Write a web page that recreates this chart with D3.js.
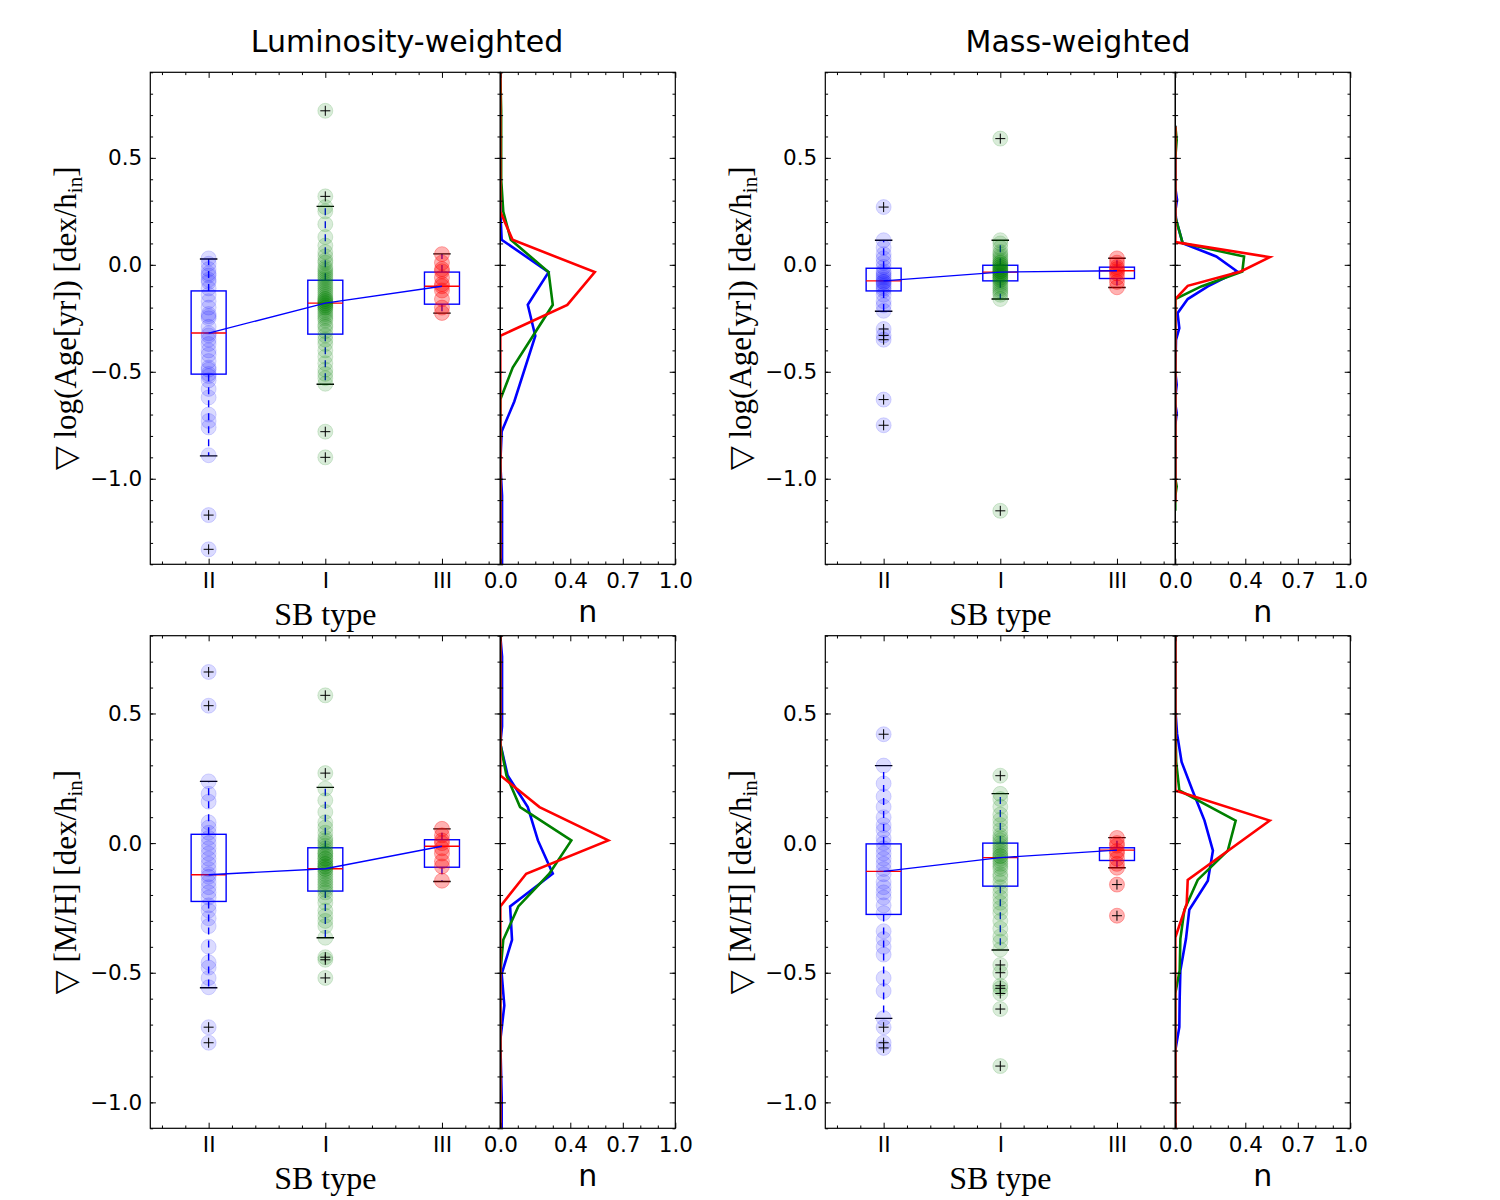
<!DOCTYPE html>
<html>
<head>
<meta charset="utf-8">
<script src="https://cdn.jsdelivr.net/npm/d3@7"></script>
<style>
  body { margin: 0; background: #fff; }
  text { font-family: "DejaVu Sans", sans-serif; }
  .serif { font-family: "Liberation Serif", "DejaVu Serif", serif; }
</style>
</head>
<body>
<svg id="chart" width="1500" height="1200"></svg>
<script>
// ---- data ------------------------------------------------------------------
const CATS = ["II", "I", "III"];
const COLS = ["#0000ff", "#008000", "#ff0000"];
const ALPHA = [0.14, 0.15, 0.3];

// luminosity-weighted age gradients
const lumAgeII = [0.03, 0.005, -0.02, -0.04, -0.05, -0.07, -0.08, -0.11, -0.14, -0.17, -0.20, -0.23, -0.24, -0.25, -0.29,
  -0.32, -0.33, -0.35, -0.37, -0.40, -0.42, -0.45, -0.48, -0.49, -0.51, -0.52, -0.54, -0.58, -0.62, -0.70, -0.73, -0.76,
  -0.89, -1.17, -1.33];
const lumAgeI = [0.72, 0.32, 0.27, 0.25, 0.19, 0.13, 0.09, 0.06, 0.04, 0.02, 0.01, -0.01, -0.02, -0.03, -0.04, -0.05,
  -0.06, -0.07, -0.08, -0.09, -0.10, -0.11, -0.12, -0.13, -0.14, -0.15, -0.16, -0.16, -0.17, -0.17, -0.18, -0.18, -0.19,
  -0.19, -0.20, -0.20, -0.21, -0.22, -0.23, -0.24, -0.25, -0.26, -0.28, -0.29, -0.31, -0.33, -0.35, -0.37, -0.40, -0.43,
  -0.46, -0.49, -0.51, -0.53, -0.556, -0.78, -0.90];
const lumAgeIII = [0.05, 0.01, -0.02, -0.03, -0.06, -0.09, -0.10, -0.12, -0.16, -0.20, -0.225];
// box stats: [lower whisker, q1, median, q3, upper whisker]
const lumAgeStats = [[-0.893, -0.511, -0.319, -0.122, 0.027], [-0.558, -0.324, -0.179, -0.072, 0.273], [-0.226, -0.184, -0.100, -0.034, 0.051]];
// histograms: [value, n]
const lumAgeHistII = [[0.9, 0], [0.25, 0], [0.117, 0.008], [-0.034, 0.276], [-0.187, 0.157], [-0.332, 0.2], [-0.639, 0.08],
  [-0.779, 0.008], [-0.93, 0], [-1.08, 0.01], [-1.4, 0.01]];
const lumAgeHistI = [[0.9, 0], [0.72, 0.005], [0.4, 0.005], [0.249, 0.017], [0.117, 0.06], [-0.034, 0.276], [-0.187, 0.30],
  [-0.48, 0.071], [-0.63, 0], [-1.4, 0]];
const lumAgeHistIII = [[0.9, 0], [0.249, 0], [0.117, 0.07], [-0.034, 0.54], [-0.187, 0.383], [-0.332, 0], [-1.4, 0]];

// mass-weighted age gradients
const massAgeII = [0.27, 0.115, 0.08, 0.05, 0.03, 0.01, -0.01, -0.03, -0.04, -0.05, -0.06, -0.07, -0.08, -0.08, -0.09,
  -0.10, -0.11, -0.12, -0.14, -0.17, -0.19, -0.215, -0.30, -0.33, -0.35, -0.63, -0.75];
const massAgeI = [0.59, 0.115, 0.10, 0.08, 0.06, 0.05, 0.04, 0.03, 0.02, 0.01, 0.01, 0.0, 0.0, -0.01, -0.01, -0.02, -0.02,
  -0.03, -0.03, -0.03, -0.04, -0.04, -0.05, -0.05, -0.06, -0.06, -0.07, -0.07, -0.08, -0.09, -0.10, -0.11, -0.12, -0.13,
  -0.14, -0.16, -1.15];
const massAgeIII = [0.03, 0.01, -0.01, -0.02, -0.03, -0.04, -0.06, -0.08, -0.105];
const massAgeStats = [[-0.217, -0.122, -0.075, -0.016, 0.115], [-0.160, -0.075, -0.034, -0.002, 0.115], [-0.106, -0.064, -0.028, -0.011, 0.031]];
const massAgeHistII = [[0.65, 0], [0.36, 0], [0.304, 0.01], [0.25, 0], [0.21, 0.005], [0.101, 0.042], [0.039, 0.234],
  [-0.031, 0.354], [-0.101, 0.186], [-0.160, 0.071], [-0.226, 0.013], [-0.296, 0.023], [-0.351, 0.004], [-0.5, 0],
  [-0.561, 0.008], [-0.62, 0], [-0.65, 0], [-0.693, 0.008], [-0.75, 0], [-1.1, 0]];
const massAgeHistI = [[0.65, 0], [0.584, 0.008], [0.5, 0], [0.226, 0], [0.101, 0.042], [0.039, 0.393], [-0.031, 0.383],
  [-0.101, 0.148], [-0.160, 0], [-1.0, 0], [-1.036, 0.008], [-1.08, 0], [-1.15, 0]];
const massAgeHistIII = [[0.647, 0], [0.106, 0], [0.036, 0.54], [-0.031, 0.374], [-0.098, 0.071], [-0.160, 0], [-1.11, 0]];

// luminosity-weighted [M/H] gradients
const lumMHII = [0.66, 0.53, 0.238, 0.19, 0.16, 0.08, 0.06, 0.04, 0.02, 0.0, -0.02, -0.04, -0.06, -0.08, -0.10, -0.12,
  -0.13, -0.15, -0.17, -0.19, -0.21, -0.24, -0.26, -0.29, -0.32, -0.40, -0.46, -0.48, -0.52, -0.556, -0.71, -0.77];
const lumMHI = [0.57, 0.27, 0.21, 0.165, 0.12, 0.08, 0.06, 0.04, 0.02, 0.01, 0.0, -0.01, -0.02, -0.03, -0.04, -0.04, -0.05,
  -0.06, -0.06, -0.07, -0.08, -0.08, -0.09, -0.09, -0.10, -0.10, -0.11, -0.12, -0.13, -0.14, -0.15, -0.16, -0.17, -0.18,
  -0.19, -0.21, -0.23, -0.26, -0.28, -0.30, -0.32, -0.365, -0.44, -0.45, -0.52];
const lumMHIII = [0.055, 0.03, 0.01, 0.0, -0.02, -0.04, -0.07, -0.09, -0.145];
const lumMHStats = [[-0.558, -0.225, -0.122, 0.034, 0.238], [-0.365, -0.185, -0.099, -0.018, 0.215], [-0.148, -0.093, -0.012, 0.013, 0.055]];
const lumMHHistII = [[0.8, 0], [0.72, 0.01], [0.45, 0.01], [0.384, 0], [0.261, 0.042], [0.139, 0.157], [0.0104, 0.215],
  [-0.118, 0.30], [-0.244, 0.056], [-0.373, 0.067], [-0.504, 0.008], [-0.626, 0.023], [-0.761, 0], [-0.98, 0.008], [-1.1, 0.008]];
const lumMHHistI = [[0.8, 0], [0.384, 0], [0.261, 0.035], [0.139, 0.113], [0.0104, 0.406], [-0.118, 0.28], [-0.244, 0.103],
  [-0.373, 0.017], [-0.504, 0], [-1.1, 0]];
const lumMHHistIII = [[0.8, 0], [0.261, 0], [0.139, 0.224], [0.0104, 0.617], [-0.118, 0.148], [-0.244, 0], [-1.1, 0]];

// mass-weighted [M/H] gradients
const massMHII = [0.42, 0.299, 0.23, 0.18, 0.14, 0.10, 0.07, 0.05, 0.02, 0.0, -0.02, -0.04, -0.06, -0.08, -0.10, -0.12,
  -0.15, -0.17, -0.19, -0.21, -0.24, -0.27, -0.34, -0.37, -0.40, -0.43, -0.52, -0.57, -0.675, -0.71, -0.77, -0.79];
const massMHI = [0.26, 0.19, 0.17, 0.14, 0.11, 0.09, 0.07, 0.05, 0.03, 0.02, 0.01, 0.0, -0.01, -0.02, -0.03, -0.04,
  -0.05, -0.05, -0.06, -0.07, -0.08, -0.09, -0.10, -0.12, -0.13, -0.15, -0.17, -0.19, -0.21, -0.23, -0.25, -0.27,
  -0.30, -0.33, -0.36, -0.38, -0.41, -0.47, -0.50, -0.55, -0.56, -0.58, -0.64, -0.86];
const massMHIII = [0.02, 0.0, -0.01, -0.03, -0.04, -0.06, -0.08, -0.095, -0.16, -0.28];
const massMHStats = [[-0.676, -0.275, -0.109, -0.003, 0.299], [-0.412, -0.166, -0.056, 0.000, 0.191], [-0.095, -0.067, -0.027, -0.018, 0.021]];
const massMHHistII = [[0.8, 0], [0.519, 0], [0.422, 0.01], [0.313, 0.036], [0.2, 0.1], [0.087, 0.167], [-0.029, 0.215],
  [-0.145, 0.186], [-0.257, 0.08], [-0.369, 0.061], [-0.491, 0.029], [-0.60, 0.025], [-0.71, 0.023], [-0.8, 0], [-1.1, 0]];
const massMHHistI = [[0.8, 0], [0.5, 0], [0.313, 0.005], [0.203, 0.023], [0.087, 0.345], [-0.029, 0.30], [-0.142, 0.128],
  [-0.257, 0.052], [-0.369, 0.029], [-0.491, 0.025], [-0.58, 0], [-1.1, 0]];
const massMHHistIII = [[0.8, 0], [0.203, 0], [0.087, 0.54], [-0.142, 0.071], [-0.235, 0.065], [-0.364, 0], [-1.1, 0]];

const AGE_DOMAIN = [-1.4, 0.9];
const MH_DOMAIN = [-1.1, 0.8];
const N_TICKS = [0, 0.4, 0.7, 1.0];

// ---- layout --------------------------------------------------------------
const svg = d3.select("#chart");
const BOX_W = 350, HIST_W = 175;
const FONT_TICK = "21.5px";

const panels = [
  { id: "a", x0: 150.3, y0: 72.3, y1: 564.3, dom: AGE_DOMAIN, pts: [lumAgeII, lumAgeI, lumAgeIII], stats: lumAgeStats,
    hist: [lumAgeHistII, lumAgeHistI, lumAgeHistIII], ylab: "age" },
  { id: "b", x0: 825.3, y0: 72.3, y1: 564.3, dom: AGE_DOMAIN, pts: [massAgeII, massAgeI, massAgeIII], stats: massAgeStats,
    hist: [massAgeHistII, massAgeHistI, massAgeHistIII], ylab: "age" },
  { id: "c", x0: 150.3, y0: 635.7, y1: 1128.3, dom: MH_DOMAIN, pts: [lumMHII, lumMHI, lumMHIII], stats: lumMHStats,
    hist: [lumMHHistII, lumMHHistI, lumMHHistIII], ylab: "mh" },
  { id: "d", x0: 825.3, y0: 635.7, y1: 1128.3, dom: MH_DOMAIN, pts: [massMHII, massMHI, massMHIII], stats: massMHStats,
    hist: [massMHHistII, massMHHistI, massMHHistIII], ylab: "mh" },
];

const range = (a, b, s) => d3.range(Math.round(a / s), Math.round(b / s) + 1).map((k) => +(k * s).toFixed(3));

// inward ticks on one side of a frame, via d3 axes
function ticks(g, axisFn, scale, transform, major, minor, labels, fmt) {
  const maj = g.append("g").attr("transform", transform)
    .call(axisFn(scale).tickValues(major).tickSize(-5.6).tickPadding(8)
      .tickFormat(labels ? fmt : () => ""));
  const mnr = g.append("g").attr("transform", transform)
    .call(axisFn(scale).tickValues(minor).tickSize(-2.8).tickFormat(() => ""));
  [maj, mnr].forEach((s) => {
    s.select(".domain").remove();
    s.selectAll("line").attr("stroke", "#000").attr("stroke-width", 1);
    s.selectAll("text").attr("fill", "#000").style("font-size", FONT_TICK).style("font-family", "DejaVu Sans");
  });
}

function drawPanel(p) {
  const g = svg.append("g");
  const x = d3.scaleLinear().domain([0.5, 3.5]).range([p.x0, p.x0 + BOX_W]);
  const y = d3.scaleLinear().domain(p.dom).range([p.y1, p.y0]);
  const hx = d3.scaleLinear().domain([0, 1]).range([p.x0 + BOX_W, p.x0 + BOX_W + HIST_W]);
  const boxW = x(1.3) - x(1);

  const clipBox = "clip-box-" + p.id, clipHist = "clip-hist-" + p.id;
  const defs = svg.append("defs");
  defs.append("clipPath").attr("id", clipBox).append("rect")
    .attr("x", p.x0).attr("y", p.y0).attr("width", BOX_W).attr("height", p.y1 - p.y0);
  defs.append("clipPath").attr("id", clipHist).append("rect")
    .attr("x", p.x0 + BOX_W).attr("y", p.y0).attr("width", HIST_W).attr("height", p.y1 - p.y0);

  // ---- boxes ----
  const plot = g.append("g").attr("clip-path", `url(#${clipBox})`);
  p.stats.forEach((s, i) => {
    const cx = x(i + 1);
    const [lo, q1, med, q3, hi] = s;
    plot.append("rect").attr("x", cx - boxW / 2).attr("y", y(q3)).attr("width", boxW).attr("height", y(q1) - y(q3))
      .attr("fill", "none").attr("stroke", "#0000ff").attr("stroke-width", 1.4);
    plot.append("line").attr("x1", cx - boxW / 2).attr("x2", cx + boxW / 2).attr("y1", y(med)).attr("y2", y(med))
      .attr("stroke", "#ff0000").attr("stroke-width", 1.4);
    [[q3, hi], [q1, lo]].forEach(([a, b]) => {
      plot.append("line").attr("x1", cx).attr("x2", cx).attr("y1", y(a)).attr("y2", y(b))
        .attr("stroke", "#0000ff").attr("stroke-width", 1.4).attr("stroke-dasharray", "7,6");
      plot.append("line").attr("x1", cx - boxW / 4).attr("x2", cx + boxW / 4).attr("y1", y(b)).attr("y2", y(b))
        .attr("stroke", "#000").attr("stroke-width", 1.4);
    });
  });

  // ---- points ----
  p.pts.forEach((vals, i) => {
    plot.append("g").selectAll("circle").data(vals).join("circle")
      .attr("cx", x(i + 1)).attr("cy", (d) => y(d)).attr("r", 7.5)
      .attr("fill", COLS[i]).attr("fill-opacity", ALPHA[i])
      .attr("stroke", COLS[i]).attr("stroke-opacity", ALPHA[i]).attr("stroke-width", 1);
  });
  // fliers
  p.pts.forEach((vals, i) => {
    const [lo, , , , hi] = p.stats[i];
    const fl = vals.filter((v) => v > hi + 0.004 || v < lo - 0.004);
    const fg = plot.append("g").selectAll("g").data(fl).join("g")
      .attr("transform", (d) => `translate(${x(i + 1)},${y(d)})`);
    fg.append("line").attr("x1", -5).attr("x2", 5).attr("stroke", "#000").attr("stroke-width", 1);
    fg.append("line").attr("y1", -5).attr("y2", 5).attr("stroke", "#000").attr("stroke-width", 1);
  });
  // medians joined
  plot.append("path")
    .attr("d", d3.line().x((d, i) => x(i + 1)).y((d) => y(d[2]))(p.stats))
    .attr("fill", "none").attr("stroke", "#0000ff").attr("stroke-width", 1.4);

  // ---- histograms ----
  const hg = g.append("g").attr("clip-path", `url(#${clipHist})`);
  const hl = d3.line().x((d) => hx(d[1])).y((d) => y(d[0]));
  p.hist.forEach((h, i) => {
    hg.append("path").attr("d", hl(h)).attr("fill", "none").attr("stroke", COLS[i])
      .attr("stroke-width", 2.6).attr("stroke-linejoin", "miter");
  });

  // ---- frames + ticks ----
  const yMajor = range(-1.0, 0.5, 0.5).filter((v) => v >= p.dom[0] && v <= p.dom[1]);
  const yMinor = range(-1.4, 0.9, 0.1).filter((v) => v >= p.dom[0] - 1e-9 && v <= p.dom[1] + 1e-9);
  const xb = p.x0 + BOX_W, xh = xb + HIST_W;
  const fy = d3.format(".1f");
  ticks(g, d3.axisLeft, y, `translate(${p.x0},0)`, yMajor, yMinor, true, fy);
  ticks(g, d3.axisRight, y, `translate(${xb},0)`, yMajor, yMinor, false);
  ticks(g, d3.axisLeft, y, `translate(${xb},0)`, yMajor, yMinor, false);
  ticks(g, d3.axisRight, y, `translate(${xh},0)`, yMajor, yMinor, false);
  const bxMinor = range(0.6, 3.4, 0.2).filter((v) => ![1, 2, 3].includes(v));
  ticks(g, d3.axisBottom, x, `translate(0,${p.y1})`, [1, 2, 3], bxMinor, true, (d) => CATS[d - 1]);
  ticks(g, d3.axisTop, x, `translate(0,${p.y0})`, [1, 2, 3], bxMinor, false);
  const hMinor = range(0.1, 0.9, 0.1).filter((v) => !N_TICKS.includes(v));
  ticks(g, d3.axisBottom, hx, `translate(0,${p.y1})`, N_TICKS, hMinor, true, fy);
  ticks(g, d3.axisTop, hx, `translate(0,${p.y0})`, N_TICKS, hMinor, false);

  g.append("rect").attr("x", p.x0).attr("y", p.y0).attr("width", BOX_W).attr("height", p.y1 - p.y0)
    .attr("fill", "none").attr("stroke", "#000").attr("stroke-width", 1.2);
  g.append("rect").attr("x", xb).attr("y", p.y0).attr("width", HIST_W).attr("height", p.y1 - p.y0)
    .attr("fill", "none").attr("stroke", "#000").attr("stroke-width", 1.2);

  // ---- axis labels ----
  g.append("text").attr("class", "serif").attr("x", p.x0 + BOX_W / 2).attr("y", p.y1 + 61)
    .attr("text-anchor", "middle").style("font-size", "32px").text("SB type");
  g.append("text").attr("x", xb + HIST_W / 2).attr("y", p.y1 + 58)
    .attr("text-anchor", "middle").style("font-size", "30px").text("n");

  const yl = g.append("text").attr("class", "serif")
    .attr("transform", `translate(${p.x0 - 74},${(p.y0 + p.y1) / 2}) rotate(-90)`)
    .attr("text-anchor", "middle").style("font-size", "31px");
  yl.append("tspan").text(p.ylab === "age" ? "▽ log(Age[yr]) [dex/h" : "▽ [M/H] [dex/h");
  yl.append("tspan").attr("dy", 6).style("font-size", "21px").text("in");
  yl.append("tspan").attr("dy", -6).text("]");
}

panels.forEach(drawPanel);

svg.append("text").attr("x", 407).attr("y", 52).attr("text-anchor", "middle").style("font-size", "30px")
  .text("Luminosity-weighted");
svg.append("text").attr("x", 1078).attr("y", 52).attr("text-anchor", "middle").style("font-size", "30px")
  .text("Mass-weighted");
</script>
</body>
</html>
